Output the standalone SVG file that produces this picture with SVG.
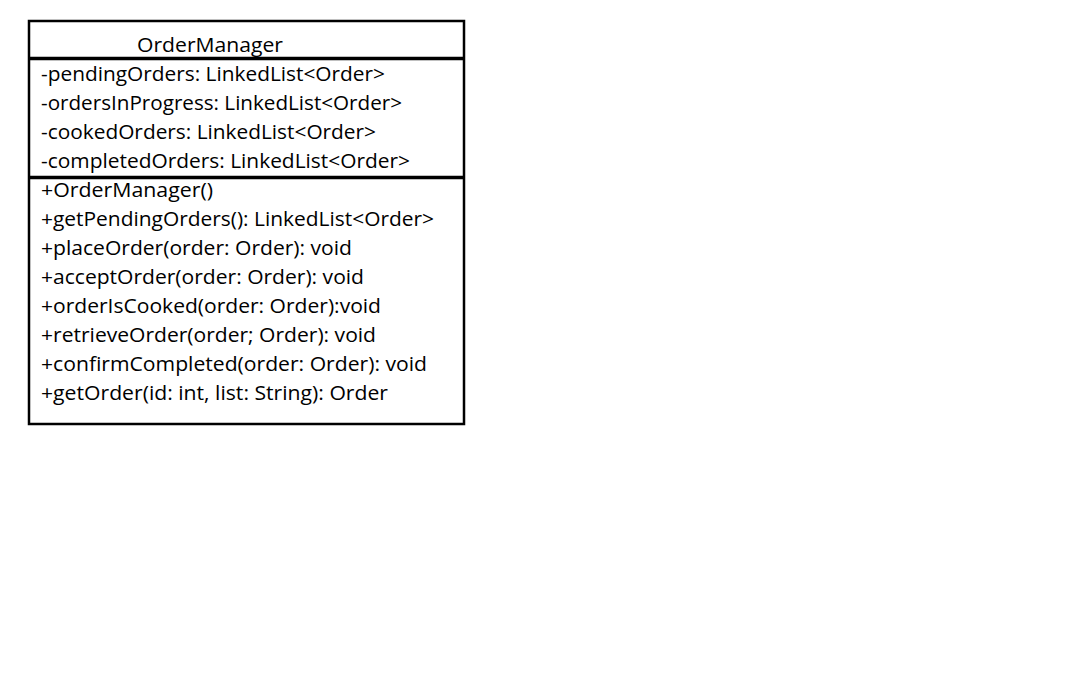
<svg xmlns="http://www.w3.org/2000/svg" width="1077" height="690" viewBox="0 0 1077 690">
<style>
text{font-family:"Open Sans","Noto Sans","Liberation Sans",sans-serif;font-size:20px;fill:#000}
.sep{stroke:#000;stroke-width:3.5}
</style>
<rect x="0" y="0" width="1077" height="690" fill="#fff"/>
<g id="OrderManager">
<rect x="29" y="21" width="435" height="403" fill="#fff" stroke="#000" stroke-width="2.5"/>
<line class="sep" x1="28" y1="58.5" x2="465" y2="58.5"/>
<line class="sep" x1="28" y1="177.5" x2="465" y2="177.5"/>
<text x="137" y="52" textLength="146" lengthAdjust="spacingAndGlyphs">OrderManager</text>
<text x="41" y="81" textLength="344" lengthAdjust="spacingAndGlyphs">-pendingOrders: LinkedList&lt;Order&gt;</text>
<text x="41" y="110" textLength="361" lengthAdjust="spacingAndGlyphs">-ordersInProgress: LinkedList&lt;Order&gt;</text>
<text x="41" y="139" textLength="335" lengthAdjust="spacingAndGlyphs">-cookedOrders: LinkedList&lt;Order&gt;</text>
<text x="41" y="168" textLength="369" lengthAdjust="spacingAndGlyphs">-completedOrders: LinkedList&lt;Order&gt;</text>
<text x="41" y="197" textLength="172" lengthAdjust="spacingAndGlyphs">+OrderManager()</text>
<text x="41" y="226" textLength="393" lengthAdjust="spacingAndGlyphs">+getPendingOrders(): LinkedList&lt;Order&gt;</text>
<text x="41" y="255" textLength="311" lengthAdjust="spacingAndGlyphs">+placeOrder(order: Order): void</text>
<text x="41" y="284" textLength="323" lengthAdjust="spacingAndGlyphs">+acceptOrder(order: Order): void</text>
<text x="41" y="313" textLength="340" lengthAdjust="spacingAndGlyphs">+orderIsCooked(order: Order):void</text>
<text x="41" y="342" textLength="335" lengthAdjust="spacingAndGlyphs">+retrieveOrder(order; Order): void</text>
<text x="41" y="371" textLength="386" lengthAdjust="spacingAndGlyphs">+confirmCompleted(order: Order): void</text>
<text x="41" y="400" textLength="347" lengthAdjust="spacingAndGlyphs">+getOrder(id: int, list: String): Order</text>
</g>
<g id="connectors"></g>
</svg>
